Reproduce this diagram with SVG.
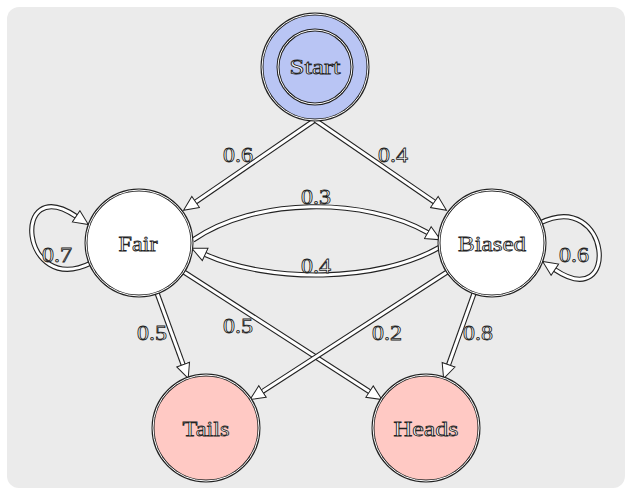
<svg xmlns="http://www.w3.org/2000/svg" width="632" height="495" viewBox="0 0 632 495">
<defs>
<style>
.bg{fill:#ebebeb}
.ring{fill:none;stroke:#222;stroke-width:3}
.ringin{fill:none;stroke:#fff;stroke-width:1}
.eo{fill:none;stroke:#222;stroke-width:5.2}
.ei{fill:none;stroke:#fff;stroke-width:3}
.t{font-family:"Liberation Serif","DejaVu Serif",serif;font-size:22px;fill:#fff;stroke:#222;stroke-width:0.8;text-anchor:middle}
</style>
<marker id="ah" markerUnits="userSpaceOnUse" markerWidth="20" markerHeight="20" refX="1" refY="8" orient="auto" viewBox="0 0 20 16">
<polygon points="0.8,1.2 15.5,8 0.8,14.8" fill="#fff" stroke="#222" stroke-width="1"/>
</marker>
</defs>
<rect class="bg" x="7" y="7" width="618" height="481" rx="12"/>
<g id="connectors">
<path class="eo" d="M315,120 L195.5,202.1"/>
<path class="ei" d="M315,120 L195.5,202.1" marker-end="url(#ah)"/>
<path class="eo" d="M315,120 L434.5,202.1"/>
<path class="ei" d="M315,120 L434.5,202.1" marker-end="url(#ah)"/>
<path class="eo" d="M193,240 C255,197 365,197 428,232.7"/>
<path class="ei" d="M193,240 C255,197 365,197 428,232.7" marker-end="url(#ah)"/>
<path class="eo" d="M440,247 C378,283 268,283 205,254.3"/>
<path class="ei" d="M440,247 C378,283 268,283 205,254.3" marker-end="url(#ah)"/>
<path class="eo" d="M91,263 C20,298 10,172 76.3,216.4"/>
<path class="ei" d="M91,263 C20,298 10,172 76.3,216.4" marker-end="url(#ah)"/>
<path class="eo" d="M540,223 C611,188 621,314 554.7,269.6"/>
<path class="ei" d="M540,223 C611,188 621,314 554.7,269.6" marker-end="url(#ah)"/>
<path class="eo" d="M157,293 L183.2,364.8"/>
<path class="ei" d="M157,293 L183.2,364.8" marker-end="url(#ah)"/>
<path class="eo" d="M183.5,271.7 L369.7,391.7"/>
<path class="ei" d="M183.5,271.7 L369.7,391.7" marker-end="url(#ah)"/>
<path class="eo" d="M447.5,271.8 L262.3,391.6"/>
<path class="ei" d="M447.5,271.8 L262.3,391.6" marker-end="url(#ah)"/>
<path class="eo" d="M474.2,292.9 L448.5,364.9"/>
<path class="ei" d="M474.2,292.9 L448.5,364.9" marker-end="url(#ah)"/>
<text class="t" x="238" y="162" textLength="30" lengthAdjust="spacingAndGlyphs">0.6</text>
<text class="t" x="393" y="162" textLength="30" lengthAdjust="spacingAndGlyphs">0.4</text>
<text class="t" x="316" y="204" textLength="30" lengthAdjust="spacingAndGlyphs">0.3</text>
<text class="t" x="316" y="273" textLength="30" lengthAdjust="spacingAndGlyphs">0.4</text>
<text class="t" x="57" y="262" textLength="30" lengthAdjust="spacingAndGlyphs">0.7</text>
<text class="t" x="574" y="262" textLength="30" lengthAdjust="spacingAndGlyphs">0.6</text>
<text class="t" x="152" y="340" textLength="30" lengthAdjust="spacingAndGlyphs">0.5</text>
<text class="t" x="238" y="333" textLength="30" lengthAdjust="spacingAndGlyphs">0.5</text>
<text class="t" x="387" y="340" textLength="30" lengthAdjust="spacingAndGlyphs">0.2</text>
<text class="t" x="478" y="340" textLength="30" lengthAdjust="spacingAndGlyphs">0.8</text>
</g>
<g id="start">
<circle cx="315" cy="67" r="53" fill="#b9c5f4"/>
<circle class="ring" cx="315" cy="67" r="53"/>
<circle class="ringin" cx="315" cy="67" r="53"/>
<circle class="ring" cx="315" cy="67" r="37"/>
<circle class="ringin" cx="315" cy="67" r="37"/>
<text class="t" x="315" y="74" textLength="51" lengthAdjust="spacingAndGlyphs">Start</text>
</g>
<g id="fair">
<circle cx="139" cy="243" r="53" fill="#fff"/>
<circle class="ring" cx="139" cy="243" r="53"/>
<circle class="ringin" cx="139" cy="243" r="53"/>
<text class="t" x="138" y="251" textLength="39" lengthAdjust="spacingAndGlyphs">Fair</text>
</g>
<g id="biased">
<circle cx="492" cy="243" r="53" fill="#fff"/>
<circle class="ring" cx="492" cy="243" r="53"/>
<circle class="ringin" cx="492" cy="243" r="53"/>
<text class="t" x="492" y="251" textLength="68" lengthAdjust="spacingAndGlyphs">Biased</text>
</g>
<g id="tails">
<circle cx="206" cy="428" r="53" fill="#ffc9c4"/>
<circle class="ring" cx="206" cy="428" r="53"/>
<circle class="ringin" cx="206" cy="428" r="53"/>
<text class="t" x="206" y="436" textLength="47" lengthAdjust="spacingAndGlyphs">Tails</text>
</g>
<g id="heads">
<circle cx="426" cy="428" r="53" fill="#ffc9c4"/>
<circle class="ring" cx="426" cy="428" r="53"/>
<circle class="ringin" cx="426" cy="428" r="53"/>
<text class="t" x="426" y="436" textLength="65" lengthAdjust="spacingAndGlyphs">Heads</text>
</g>
</svg>
